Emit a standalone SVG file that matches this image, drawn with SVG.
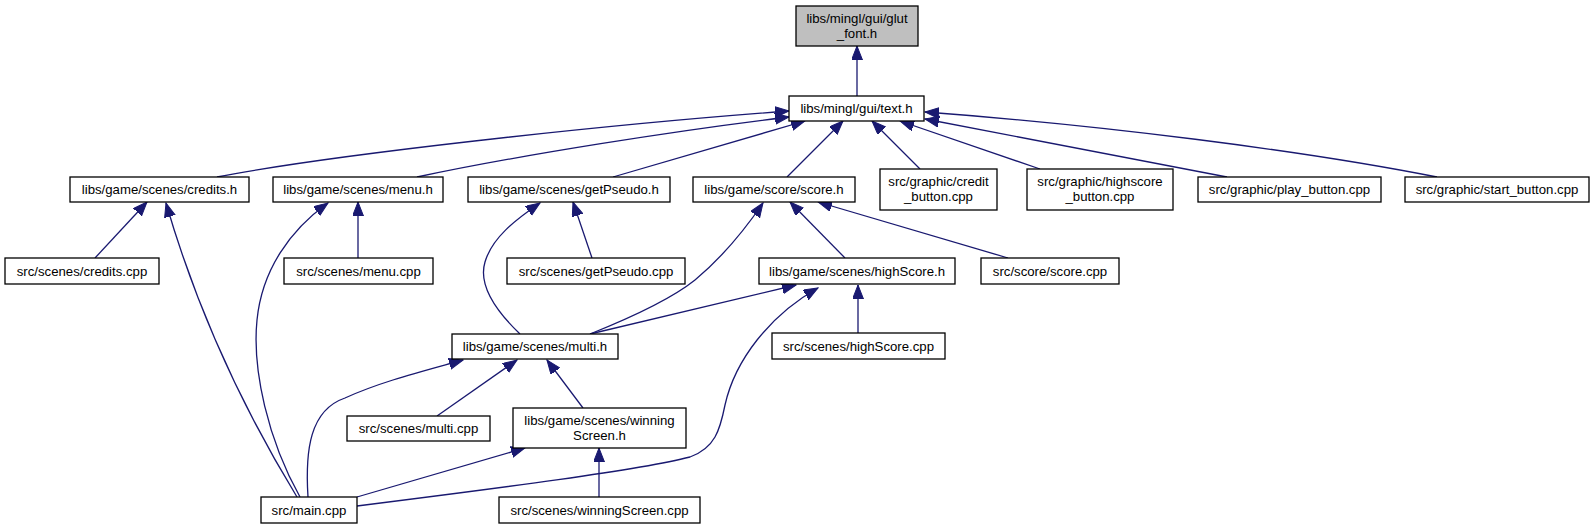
<svg xmlns="http://www.w3.org/2000/svg" width="1595" height="529" viewBox="0 0 1595 529">
<defs>
<style>
.n rect{fill:#ffffff;stroke:#000000;stroke-width:1.3}
.n.g rect{fill:#bfbfbf}
.n text{font-family:"Liberation Sans",Arial,sans-serif;font-size:13.2px;fill:#000000;text-anchor:middle}
#edges path{fill:none;stroke:#191970;stroke-width:1.3;marker-end:url(#ah)}
</style>
<marker id="ah" markerUnits="userSpaceOnUse" markerWidth="15" markerHeight="12" refX="14" refY="5.5" viewBox="0 0 15 12" orient="auto">
<path d="M0,0 L14,5.5 L0,11 z" fill="#191970" stroke="#191970" stroke-width="1"/>
</marker>
</defs>
<rect width="1595" height="529" fill="#ffffff"/>
<g id="edges">
<path d="M857,97 L857,46"/>
<path d="M217,177 C330,155 600,125 789,111"/>
<path d="M417,177 C520,155 680,130 789,117"/>
<path d="M613,177 L805,121"/>
<path d="M787,177 L843,121"/>
<path d="M920,169 L872,121"/>
<path d="M1040,169 L900,121"/>
<path d="M1227,177 L925,119"/>
<path d="M1437,177 C1300,150 1100,125 925,112"/>
<path d="M95,258 L147,202"/>
<path d="M297,497 C250,420 200,320 166,203"/>
<path d="M358,258 L358,202"/>
<path d="M300,497 C268,440 252,370 257,320 C262,270 290,230 328,203"/>
<path d="M592,258 L573,202"/>
<path d="M520,334 C495,310 478,285 485,262 C492,238 515,220 540,203"/>
<path d="M845,258 L790,202"/>
<path d="M1008,258 L818,202"/>
<path d="M590,334 C630,318 670,300 695,280 C725,255 748,225 763,203"/>
<path d="M590,334 L796,285"/>
<path d="M357,506 C500,488 640,470 690,457 C715,448 720,430 725,405 C735,360 770,315 818,288"/>
<path d="M858,333 L858,285"/>
<path d="M308,497 C305,450 310,410 345,398 C380,382 420,372 463,360"/>
<path d="M437,416 L517,360"/>
<path d="M583,408 L547,360"/>
<path d="M357,497 L525,448"/>
<path d="M599,497 L599,448"/>
</g>
<g id="n_glut_font" class="n g"><rect x="796" y="6" width="122" height="40"/><text x="857" y="22.5">libs/mingl/gui/glut</text><text x="857" y="37.5">_font.h</text></g>
<g id="n_text" class="n"><rect x="789" y="96" width="135" height="25"/><text x="856.5" y="113">libs/mingl/gui/text.h</text></g>
<g id="n_credits_h" class="n"><rect x="70" y="177" width="179" height="25"/><text x="159.5" y="194">libs/game/scenes/credits.h</text></g>
<g id="n_menu_h" class="n"><rect x="273" y="177" width="170" height="25"/><text x="358" y="194">libs/game/scenes/menu.h</text></g>
<g id="n_getPseudo_h" class="n"><rect x="468" y="177" width="202" height="25"/><text x="569" y="194">libs/game/scenes/getPseudo.h</text></g>
<g id="n_score_h" class="n"><rect x="693" y="177" width="162" height="25"/><text x="774" y="194">libs/game/score/score.h</text></g>
<g id="n_credit_button" class="n"><rect x="880" y="169" width="117" height="41"/><text x="938.5" y="186">src/graphic/credit</text><text x="938.5" y="201">_button.cpp</text></g>
<g id="n_highscore_button" class="n"><rect x="1027" y="169" width="146" height="41"/><text x="1100" y="186">src/graphic/highscore</text><text x="1100" y="201">_button.cpp</text></g>
<g id="n_play_button" class="n"><rect x="1198" y="177" width="183" height="25"/><text x="1289.5" y="194">src/graphic/play_button.cpp</text></g>
<g id="n_start_button" class="n"><rect x="1405" y="177" width="184" height="25"/><text x="1497" y="194">src/graphic/start_button.cpp</text></g>
<g id="n_credits_cpp" class="n"><rect x="5" y="258" width="154" height="26"/><text x="82" y="275.5">src/scenes/credits.cpp</text></g>
<g id="n_menu_cpp" class="n"><rect x="284" y="258" width="149" height="26"/><text x="358.5" y="275.5">src/scenes/menu.cpp</text></g>
<g id="n_getPseudo_cpp" class="n"><rect x="507" y="258" width="178" height="26"/><text x="596" y="275.5">src/scenes/getPseudo.cpp</text></g>
<g id="n_highScore_h" class="n"><rect x="759" y="258" width="196" height="26"/><text x="857" y="275.5">libs/game/scenes/highScore.h</text></g>
<g id="n_score_cpp" class="n"><rect x="981" y="258" width="138" height="26"/><text x="1050" y="275.5">src/score/score.cpp</text></g>
<g id="n_multi_h" class="n"><rect x="452" y="334" width="166" height="25"/><text x="535" y="351">libs/game/scenes/multi.h</text></g>
<g id="n_highScore_cpp" class="n"><rect x="772" y="333" width="173" height="26"/><text x="858.5" y="350.5">src/scenes/highScore.cpp</text></g>
<g id="n_multi_cpp" class="n"><rect x="347" y="416" width="143" height="25"/><text x="418.5" y="433">src/scenes/multi.cpp</text></g>
<g id="n_winningScreen_h" class="n"><rect x="513" y="408" width="173" height="40"/><text x="599.5" y="424.5">libs/game/scenes/winning</text><text x="599.5" y="439.5">Screen.h</text></g>
<g id="n_main_cpp" class="n"><rect x="261" y="497" width="96" height="26"/><text x="309" y="514.5">src/main.cpp</text></g>
<g id="n_winningScreen_cpp" class="n"><rect x="499" y="497" width="201" height="26"/><text x="599.5" y="514.5">src/scenes/winningScreen.cpp</text></g>
</svg>
